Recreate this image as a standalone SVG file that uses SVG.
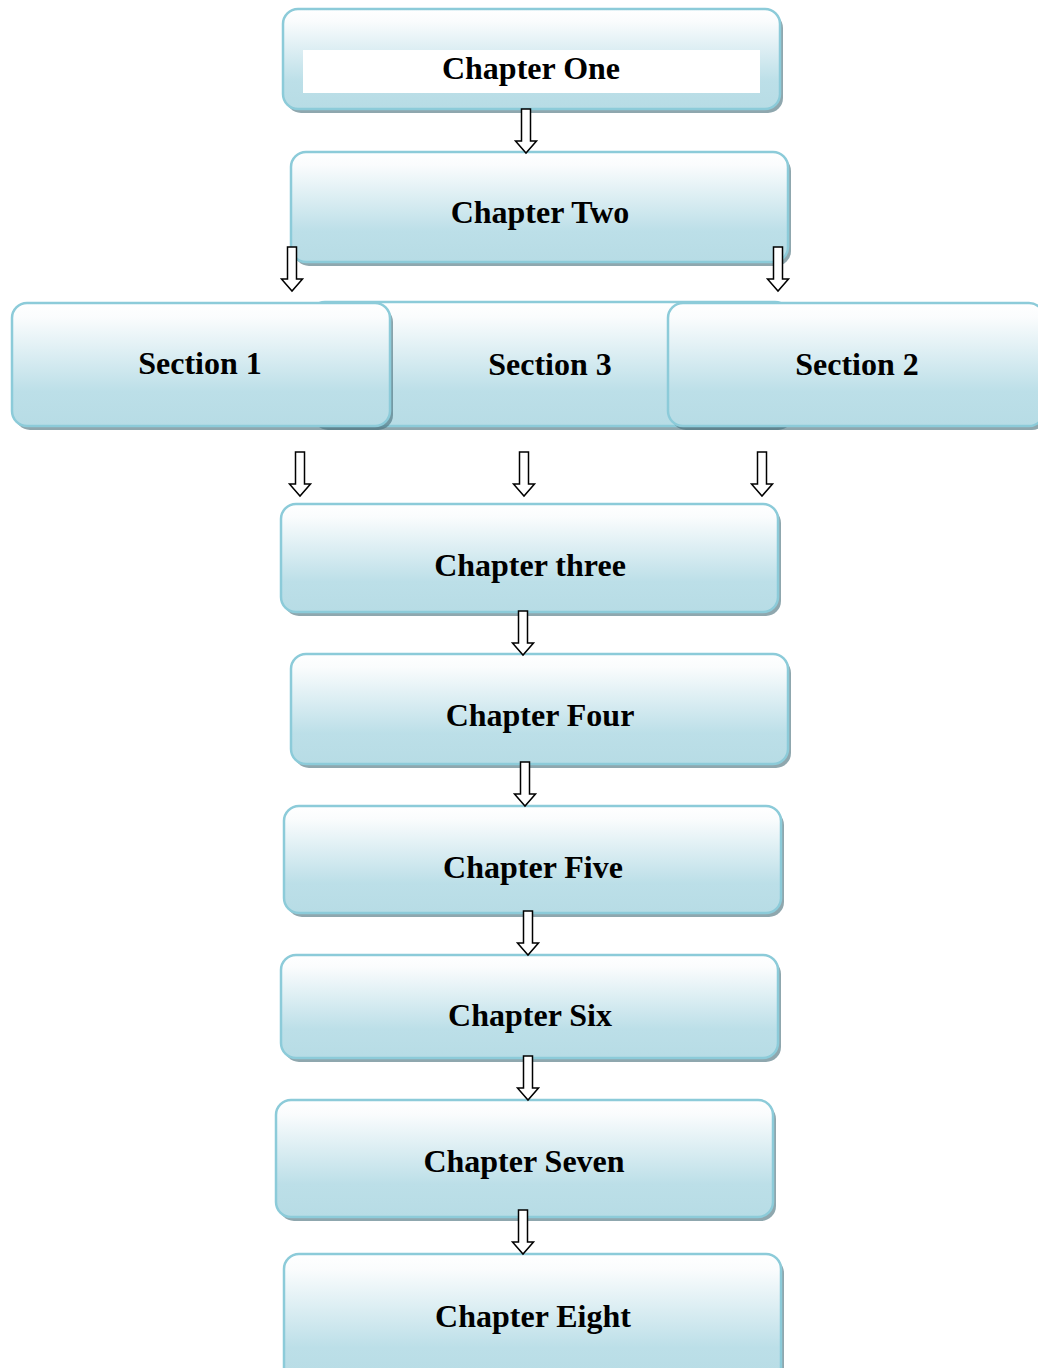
<svg xmlns="http://www.w3.org/2000/svg" width="1038" height="1368" viewBox="0 0 1038 1368">
  <defs>
    <linearGradient id="boxFill" x1="0" y1="0" x2="0" y2="1">
      <stop offset="0" stop-color="#ffffff"/>
      <stop offset="0.12" stop-color="#fafcfd"/>
      <stop offset="0.72" stop-color="#bcdfe8"/>
      <stop offset="1" stop-color="#b7dce5"/>
    </linearGradient>
    <path id="downArrow" d="M -4.5 -44 H 4.5 V -12 H 10.5 L 0 0 L -10.5 -12 H -4.5 Z"/>
  </defs>
  <style>
    .shadow { fill: #446c78; fill-opacity: 0.6; }
    .box { fill: url(#boxFill); stroke: #8ccbd9; stroke-width: 2.5; }
    .label { font-family: "Liberation Serif", "Times New Roman", serif; font-weight: bold; font-size: 32px; fill: #000; text-anchor: middle; }
    .arrow { fill: #ffffff; stroke: #000000; stroke-width: 1.5; stroke-linejoin: miter; }
  </style>

  <rect x="0" y="0" width="1038" height="1368" fill="#ffffff"/>

  <!-- Chapter One -->
  <g id="chapter-one">
    <rect class="shadow" x="286" y="13" width="497" height="100" rx="15"/>
    <rect class="box" x="283" y="9" width="497" height="100" rx="15"/>
    <rect x="303" y="50" width="457" height="43" fill="#ffffff"/>
    <text class="label" x="531" y="79">Chapter One</text>
  </g>

  <!-- Chapter Two -->
  <g id="chapter-two">
    <rect class="shadow" x="294" y="156" width="497" height="110" rx="15"/>
    <rect class="box" x="291" y="152" width="497" height="110" rx="15"/>
    <text class="label" x="540" y="223">Chapter Two</text>
  </g>

  <!-- Section 3 sits behind sections 1 and 2 -->
  <g id="section-3">
    <rect class="shadow" x="313" y="306" width="480" height="124" rx="15"/>
    <rect class="box" x="310" y="302" width="480" height="124" rx="15"/>
    <text class="label" x="550" y="375">Section 3</text>
  </g>

  <g id="section-1">
    <rect class="shadow" x="15" y="307" width="378" height="123" rx="15"/>
    <rect class="box" x="12" y="303" width="378" height="123" rx="15"/>
    <text class="label" x="200" y="374">Section 1</text>
  </g>

  <g id="section-2">
    <rect class="shadow" x="671" y="307" width="376" height="123" rx="15"/>
    <rect class="box" x="668" y="303" width="376" height="123" rx="15"/>
    <text class="label" x="857" y="375">Section 2</text>
  </g>

  <!-- Chapter three -->
  <g id="chapter-three">
    <rect class="shadow" x="284" y="508" width="497" height="108" rx="15"/>
    <rect class="box" x="281" y="504" width="497" height="108" rx="15"/>
    <text class="label" x="530" y="576">Chapter three</text>
  </g>

  <!-- Chapter Four -->
  <g id="chapter-four">
    <rect class="shadow" x="294" y="658" width="497" height="110" rx="15"/>
    <rect class="box" x="291" y="654" width="497" height="110" rx="15"/>
    <text class="label" x="540" y="726">Chapter Four</text>
  </g>

  <!-- Chapter Five -->
  <g id="chapter-five">
    <rect class="shadow" x="287" y="810" width="497" height="107" rx="15"/>
    <rect class="box" x="284" y="806" width="497" height="107" rx="15"/>
    <text class="label" x="533" y="878">Chapter Five</text>
  </g>

  <!-- Chapter Six -->
  <g id="chapter-six">
    <rect class="shadow" x="284" y="959" width="497" height="103" rx="15"/>
    <rect class="box" x="281" y="955" width="497" height="103" rx="15"/>
    <text class="label" x="530" y="1026">Chapter Six</text>
  </g>

  <!-- Chapter Seven -->
  <g id="chapter-seven">
    <rect class="shadow" x="279" y="1104" width="497" height="117" rx="15"/>
    <rect class="box" x="276" y="1100" width="497" height="117" rx="15"/>
    <text class="label" x="524" y="1172">Chapter Seven</text>
  </g>

  <!-- Chapter Eight -->
  <g id="chapter-eight">
    <rect class="shadow" x="287" y="1258" width="497" height="130" rx="15"/>
    <rect class="box" x="284" y="1254" width="497" height="130" rx="15"/>
    <text class="label" x="533" y="1327">Chapter Eight</text>
  </g>

  <!-- Block arrows between the stages -->
  <g id="connectors" class="arrow">
    <use href="#downArrow" transform="translate(526 153)"/>
    <use href="#downArrow" transform="translate(292 291)"/>
    <use href="#downArrow" transform="translate(778 291)"/>
    <use href="#downArrow" transform="translate(300 496)"/>
    <use href="#downArrow" transform="translate(524 496)"/>
    <use href="#downArrow" transform="translate(762 496)"/>
    <use href="#downArrow" transform="translate(523 655)"/>
    <use href="#downArrow" transform="translate(525 806)"/>
    <use href="#downArrow" transform="translate(528 955)"/>
    <use href="#downArrow" transform="translate(528 1100)"/>
    <use href="#downArrow" transform="translate(523 1254)"/>
  </g>
</svg>
